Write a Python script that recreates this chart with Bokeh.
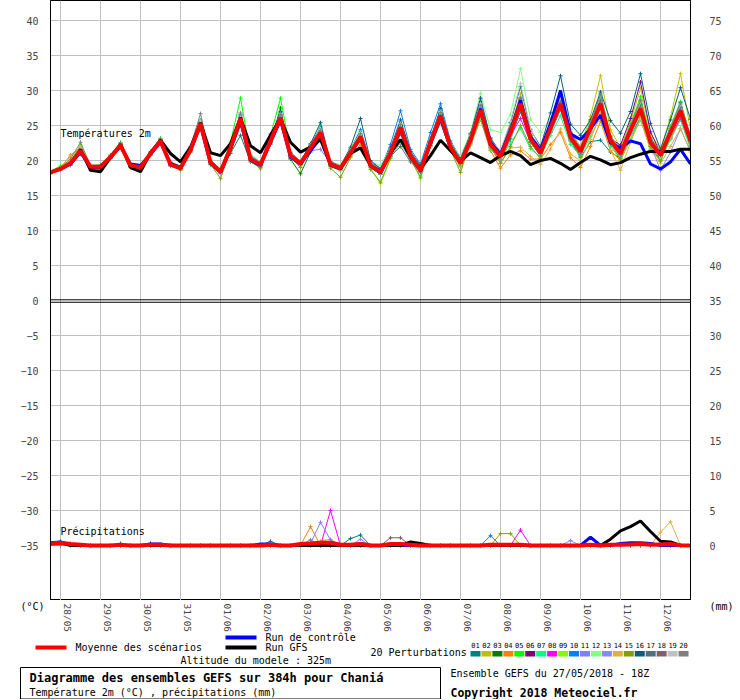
from bokeh.plotting import figure
from bokeh.models import Range1d, LinearAxis, FixedTicker, Span, Label
from bokeh.layouts import column
from bokeh.embed import file_html
from bokeh.resources import INLINE
from bokeh.core.properties import value

# ---------------- data ----------------
hours = list(range(0, 385, 6))  # 27/05 18Z + 0..384 h, every 6 h
date_labels = ["28/05", "29/05", "30/05", "31/05", "01/06", "02/06", "03/06", "04/06",
               "05/06", "06/06", "07/06", "08/06", "09/06", "10/06", "11/06", "12/06"]
temp_ticks = [-35, -30, -25, -20, -15, -10, -5, 0, 5, 10, 15, 20, 25, 30, 35, 40]
precip_ticks = [0, 5, 10, 15, 20, 25, 30, 35, 40, 45, 50, 55, 60, 65, 70, 75]
member_names = ["01", "02", "03", "04", "05", "06", "07", "08", "09", "10",
                "11", "12", "13", "14", "15", "16", "17", "18", "19", "20"]

temp_mean = [18.3, 18.8, 19.6, 21.4, 19.1, 19.1, 20.5, 22.2, 19.3, 19.0, 21.0, 22.8, 19.4, 18.9, 21.5, 25.3, 19.7,
             18.4, 21.8, 26.0, 20.2, 19.4, 22.8, 26.1, 20.7, 19.6, 21.8, 24.0, 19.4, 18.9, 21.1, 23.4, 19.3,
             18.3, 21.1, 24.7, 20.7, 18.6, 22.6, 26.4, 21.9, 19.6, 22.9, 27.2, 22.3, 20.6, 24.0, 28.1, 23.1,
             21.1, 24.6, 28.1, 23.3, 21.3, 24.6, 28.1, 22.9, 21.0, 24.3, 27.4, 22.6, 20.8, 24.0, 27.1, 22.8]
temp_control = [18.3, 18.8, 19.5, 21.2, 19.0, 18.9, 20.4, 22.0, 19.5, 19.3, 20.9, 22.6, 19.6, 19.0, 21.4, 25.0, 19.6,
                18.3, 21.6, 25.6, 20.0, 19.3, 22.6, 25.8, 20.5, 19.5, 21.4, 23.2, 19.3, 18.8, 21.0, 23.2, 19.2,
                18.2, 21.0, 24.4, 20.6, 18.5, 22.4, 26.0, 21.8, 19.6, 23.0, 27.4, 22.6, 20.9, 24.3, 28.6, 23.4,
                21.5, 25.3, 30.0, 23.8, 23.0, 24.5, 26.5, 22.5, 21.8, 22.8, 22.4, 19.5, 18.8, 19.8, 21.6, 19.5]
temp_gfs = [18.3, 18.8, 19.5, 21.6, 18.6, 18.4, 20.4, 22.3, 19.0, 18.4, 21.1, 22.9, 21.0, 19.8, 21.9, 25.4, 21.1,
            20.7, 22.4, 26.1, 22.1, 21.1, 23.6, 26.0, 22.6, 21.2, 21.9, 23.0, 19.5, 18.9, 21.0, 21.8, 19.3,
            18.5, 21.0, 23.0, 20.5, 18.8, 20.7, 22.9, 21.4, 19.9, 21.1, 20.4, 19.7, 20.7, 21.3, 20.7, 19.4,
            20.0, 20.3, 19.6, 18.7, 19.7, 20.6, 20.1, 19.4, 19.7, 20.4, 20.9, 21.3, 21.3, 21.3, 21.6, 21.6]

t01 = [18.2, 18.7, 19.3, 20.9, 19.0, 19.0, 20.3, 22.0, 19.1, 18.9, 20.8, 22.6, 19.3, 18.8, 21.2, 25.0, 19.4,
       18.6, 21.0, 23.6, 19.8, 19.0, 22.3, 25.6, 20.3, 19.4, 21.5, 23.5, 19.3, 18.7, 20.8, 23.0, 19.2,
       18.0, 20.6, 23.8, 20.3, 18.4, 22.2, 25.6, 21.5, 19.4, 22.4, 26.2, 21.8, 20.1, 23.1, 27.0, 22.6,
       20.6, 24.0, 27.3, 22.8, 20.4, 22.7, 22.9, 21.2, 20.3, 23.4, 26.2, 22.1, 20.2, 23.3, 26.0, 22.0]
t02 = [18.3, 18.9, 19.7, 21.6, 19.2, 19.2, 20.6, 22.3, 19.4, 19.1, 21.1, 22.9, 19.5, 19.0, 21.6, 25.4, 19.8,
       18.5, 22.0, 26.4, 20.4, 19.6, 23.0, 26.6, 20.9, 19.8, 22.1, 24.6, 19.7, 19.1, 21.4, 23.9, 19.6,
       18.6, 21.5, 25.3, 21.0, 18.9, 23.0, 27.0, 22.2, 19.9, 23.4, 28.0, 22.8, 21.0, 24.8, 29.5, 23.8,
       21.6, 25.5, 29.8, 24.2, 22.0, 26.3, 32.1, 24.4, 21.8, 25.6, 30.3, 23.9, 21.6, 26.2, 32.4, 24.3]
t03 = [18.4, 18.8, 19.5, 21.3, 19.0, 19.0, 20.4, 22.1, 19.2, 18.9, 20.9, 22.7, 19.3, 18.8, 21.4, 25.2, 19.5,
       18.2, 21.6, 25.8, 20.0, 19.2, 22.6, 27.5, 20.2, 18.1, 21.2, 24.3, 19.5, 19.0, 21.2, 23.6, 19.4,
       18.4, 21.3, 25.0, 20.9, 18.8, 22.8, 26.8, 22.0, 19.8, 23.2, 27.8, 22.6, 20.8, 24.4, 28.8, 23.5,
       21.4, 25.0, 28.9, 23.7, 21.6, 25.2, 29.2, 23.3, 21.3, 24.9, 28.6, 23.0, 21.2, 24.6, 28.3, 23.2]
t04 = [18.1, 18.9, 20.8, 21.8, 19.2, 19.1, 20.4, 22.1, 19.2, 19.0, 20.9, 22.6, 19.3, 18.9, 21.3, 25.1, 19.6,
       18.6, 21.2, 25.0, 20.0, 19.4, 22.4, 25.4, 20.4, 19.5, 21.4, 23.1, 19.2, 18.7, 20.6, 22.3, 19.0,
       18.1, 20.8, 23.9, 20.4, 18.3, 22.0, 25.5, 21.5, 19.1, 22.1, 25.8, 21.4, 18.9, 20.8, 21.4, 20.2,
       20.2, 22.3, 24.0, 20.4, 19.0, 22.0, 25.6, 21.4, 20.0, 23.0, 25.8, 21.6, 20.0, 23.1, 26.0, 21.9]
t05 = [18.5, 19.2, 19.9, 22.2, 19.3, 19.4, 20.8, 22.6, 19.6, 19.3, 21.3, 23.2, 19.8, 19.2, 21.9, 25.8, 20.0,
       18.8, 22.6, 28.9, 20.8, 19.8, 23.6, 28.9, 21.2, 19.9, 22.2, 24.8, 19.8, 19.2, 21.6, 24.2, 19.7,
       18.8, 21.6, 25.6, 21.2, 19.0, 23.1, 27.2, 22.4, 20.0, 23.5, 28.2, 23.0, 21.0, 24.7, 29.0, 23.6,
       21.5, 25.2, 29.4, 23.9, 21.7, 25.6, 29.6, 23.5, 21.6, 25.2, 29.1, 23.3, 21.3, 24.9, 28.4, 23.5]
t06 = [18.3, 18.8, 19.6, 21.4, 19.1, 19.1, 20.5, 22.3, 19.3, 19.0, 21.0, 22.8, 19.4, 18.9, 21.5, 25.3, 19.7,
       18.3, 21.7, 26.1, 20.2, 19.3, 22.9, 26.3, 20.7, 19.6, 21.9, 24.2, 19.4, 18.9, 21.1, 23.5, 19.3,
       18.3, 21.2, 24.9, 20.8, 18.6, 22.7, 26.6, 22.0, 19.7, 23.0, 27.5, 22.4, 20.7, 24.2, 28.6, 23.3,
       21.3, 24.8, 28.6, 23.5, 21.5, 24.9, 28.6, 23.1, 22.2, 26.0, 31.2, 24.1, 21.0, 24.3, 27.6, 23.0]
t07 = [18.2, 18.7, 19.4, 21.1, 18.9, 18.9, 20.2, 21.9, 19.0, 18.8, 20.7, 22.5, 19.2, 18.7, 21.1, 25.0, 19.4,
       18.1, 21.4, 25.4, 19.9, 19.1, 22.4, 25.8, 20.5, 19.3, 21.4, 23.4, 19.1, 18.6, 20.8, 22.8, 19.0,
       18.0, 20.4, 22.5, 20.0, 18.2, 22.0, 25.4, 21.4, 19.1, 22.3, 26.0, 21.6, 20.2, 22.5, 24.6, 21.7,
       20.5, 23.6, 26.4, 22.3, 20.6, 23.5, 26.2, 22.0, 20.2, 23.3, 25.8, 21.8, 20.0, 23.0, 25.8, 21.7]
t08 = [18.4, 18.9, 19.7, 21.5, 19.1, 19.2, 20.6, 22.3, 19.4, 19.1, 21.1, 22.9, 19.5, 19.0, 21.6, 25.4, 19.8,
       18.5, 22.0, 26.2, 20.3, 19.6, 23.8, 26.4, 20.8, 19.7, 22.0, 24.1, 19.5, 19.0, 21.2, 23.5, 19.4,
       18.4, 21.2, 24.8, 20.8, 18.7, 22.7, 26.5, 22.0, 19.7, 23.1, 27.3, 22.5, 20.8, 23.6, 26.0, 22.6,
       21.2, 24.7, 28.3, 23.4, 21.4, 24.7, 28.3, 23.0, 21.1, 24.4, 27.6, 22.7, 20.6, 23.4, 26.1, 22.4]
t09 = [18.3, 18.7, 19.5, 21.2, 19.0, 19.0, 20.4, 22.1, 19.2, 18.9, 20.9, 22.7, 19.3, 18.7, 21.3, 25.1, 19.5,
       18.1, 21.5, 25.6, 19.9, 19.1, 22.6, 26.0, 20.5, 19.3, 21.6, 23.8, 19.2, 18.5, 20.7, 23.0, 18.9,
       16.7, 20.2, 24.2, 20.4, 17.4, 22.0, 26.2, 21.7, 19.4, 22.7, 27.0, 22.1, 20.4, 23.8, 27.8, 22.9,
       20.9, 24.4, 27.8, 23.1, 21.1, 24.4, 27.8, 22.7, 20.8, 24.0, 27.0, 22.4, 20.6, 23.8, 26.8, 22.5]
t10 = [18.3, 18.9, 19.6, 21.3, 19.2, 19.2, 20.6, 22.4, 19.4, 19.1, 21.1, 23.0, 19.6, 19.0, 21.7, 25.5, 19.9,
       18.6, 22.1, 26.4, 20.5, 19.7, 23.2, 26.8, 21.1, 19.9, 22.3, 24.6, 19.8, 19.3, 21.6, 24.4, 19.8,
       18.9, 22.3, 27.1, 21.6, 19.5, 24.0, 28.1, 22.8, 20.4, 23.8, 28.4, 23.2, 20.8, 24.1, 28.0, 23.1,
       21.0, 24.5, 28.0, 23.2, 21.2, 24.5, 28.0, 22.8, 21.0, 24.2, 27.3, 22.5, 20.7, 23.9, 27.0, 22.7]
t11 = [18.2, 18.8, 19.6, 21.2, 19.3, 19.3, 20.5, 22.0, 19.5, 19.2, 21.0, 22.6, 19.6, 19.1, 21.4, 25.1, 19.9,
       18.6, 21.8, 25.8, 20.6, 19.7, 22.7, 25.9, 21.0, 19.9, 21.4, 21.6, 19.6, 19.3, 21.2, 23.1, 19.7,
       18.7, 21.0, 24.3, 21.1, 19.0, 22.5, 26.0, 22.3, 20.0, 22.7, 26.6, 22.9, 21.2, 24.0, 27.4, 23.6,
       21.6, 24.5, 27.5, 23.8, 21.8, 24.4, 27.4, 23.4, 21.5, 24.1, 26.8, 23.1, 21.3, 23.8, 26.4, 23.2]
t12 = [18.4, 18.9, 19.7, 21.6, 19.2, 19.2, 20.6, 22.3, 19.4, 19.1, 21.1, 22.9, 19.5, 19.0, 21.6, 25.4, 19.8,
       18.5, 21.9, 26.2, 20.3, 19.5, 22.9, 26.3, 20.8, 19.7, 22.0, 24.4, 19.6, 19.4, 21.7, 24.0, 19.8,
       19.3, 21.8, 25.2, 21.2, 19.2, 23.0, 26.8, 22.5, 20.6, 24.0, 29.6, 24.4, 24.0, 26.6, 33.1, 25.9,
       24.0, 26.0, 29.0, 24.5, 21.0, 24.0, 27.4, 22.6, 20.5, 23.5, 26.8, 22.0, 20.4, 23.4, 26.6, 22.2]
t13 = [18.2, 18.6, 19.4, 21.0, 18.9, 18.9, 20.3, 22.0, 19.1, 18.8, 20.8, 22.6, 19.2, 18.7, 21.3, 25.1, 19.5,
       18.2, 21.5, 25.6, 20.0, 19.2, 22.5, 25.8, 20.5, 19.4, 21.6, 23.6, 19.2, 18.6, 20.8, 23.0, 19.1,
       18.0, 20.8, 24.2, 20.4, 18.3, 22.2, 25.9, 21.6, 19.3, 22.5, 26.6, 21.9, 20.2, 23.5, 27.4, 22.7,
       20.7, 24.1, 27.5, 22.9, 20.9, 24.1, 27.5, 22.5, 20.6, 23.8, 26.8, 22.2, 18.6, 21.2, 24.5, 21.4]
t14 = [18.0, 19.0, 20.6, 22.0, 19.3, 19.1, 20.5, 22.2, 19.3, 19.0, 21.0, 22.7, 19.4, 18.9, 21.4, 25.2, 19.6,
       18.4, 21.6, 25.6, 20.1, 19.3, 22.6, 25.9, 20.6, 19.5, 21.6, 23.8, 19.3, 18.8, 21.0, 23.2, 19.2,
       18.2, 21.0, 24.4, 20.5, 18.5, 22.4, 26.0, 21.7, 19.4, 22.6, 26.5, 21.9, 19.6, 21.8, 21.9, 20.6,
       19.4, 21.6, 24.5, 20.9, 20.0, 23.0, 26.6, 21.5, 18.6, 22.6, 26.0, 21.4, 19.6, 22.0, 24.6, 21.2]
t15 = [18.3, 18.8, 19.6, 21.4, 19.1, 19.0, 20.4, 22.2, 19.2, 18.9, 20.9, 22.8, 19.3, 18.6, 21.4, 25.2, 19.5,
       17.4, 21.5, 25.8, 20.0, 18.8, 22.6, 26.0, 20.4, 19.0, 21.6, 23.9, 18.9, 17.6, 20.4, 23.3, 18.7,
       16.9, 20.3, 24.4, 20.2, 17.6, 22.2, 26.2, 21.5, 18.3, 22.6, 27.1, 21.9, 19.6, 22.0, 25.0, 22.0,
       20.3, 24.3, 28.2, 22.9, 20.6, 24.4, 28.4, 22.4, 20.2, 24.0, 27.6, 22.0, 19.9, 23.7, 27.2, 22.1]
t16 = [18.3, 18.8, 19.6, 21.5, 19.1, 19.1, 20.6, 22.4, 19.3, 19.0, 21.1, 23.0, 19.4, 18.9, 21.7, 25.6, 19.8,
       18.4, 22.2, 26.6, 20.4, 19.5, 23.3, 27.0, 21.0, 19.7, 22.4, 25.4, 19.8, 19.2, 21.9, 26.0, 20.0,
       18.8, 21.8, 25.8, 21.3, 19.2, 23.2, 27.4, 22.5, 20.2, 23.8, 28.9, 23.2, 21.2, 25.4, 30.6, 24.4,
       22.0, 26.8, 32.1, 25.2, 23.6, 25.8, 29.8, 25.7, 23.9, 27.0, 32.4, 25.3, 21.6, 25.8, 30.4, 25.9]
t17 = [18.3, 18.8, 19.5, 21.3, 19.0, 19.0, 20.5, 22.2, 19.3, 19.0, 21.0, 22.8, 19.4, 18.9, 21.5, 25.3, 19.7,
       18.4, 21.8, 26.0, 20.1, 19.4, 22.8, 26.2, 20.7, 19.6, 21.9, 24.1, 19.4, 18.9, 21.1, 23.4, 19.3,
       18.3, 21.1, 24.7, 20.7, 18.6, 22.6, 26.4, 21.9, 19.6, 23.0, 27.3, 22.3, 20.6, 24.1, 28.3, 23.1,
       21.2, 24.7, 28.4, 23.4, 21.4, 24.8, 28.6, 23.0, 21.1, 24.5, 27.9, 22.7, 20.9, 24.2, 27.5, 22.9]
t18 = [18.4, 18.9, 19.6, 21.4, 19.2, 19.1, 20.5, 22.2, 19.3, 19.0, 21.0, 22.8, 19.4, 18.9, 21.5, 25.3, 19.7,
       18.4, 21.8, 25.9, 20.2, 19.4, 22.7, 26.0, 20.6, 19.5, 21.8, 23.9, 19.4, 18.9, 21.0, 23.3, 19.3,
       18.6, 20.6, 22.0, 19.8, 18.4, 22.4, 26.1, 21.8, 19.6, 22.8, 27.0, 22.2, 20.6, 23.9, 27.9, 23.0,
       21.0, 24.5, 27.9, 23.2, 21.2, 24.4, 27.9, 22.8, 20.9, 24.2, 27.2, 22.5, 20.7, 23.9, 26.9, 22.7]
t19 = [18.3, 18.9, 19.8, 21.7, 19.3, 19.3, 20.7, 22.4, 19.5, 19.2, 21.2, 23.0, 19.6, 19.1, 21.8, 25.6, 20.0,
       18.7, 22.2, 26.5, 20.5, 19.8, 23.1, 26.7, 21.0, 19.9, 22.2, 24.5, 19.7, 19.2, 21.5, 23.9, 19.6,
       18.7, 21.6, 25.3, 21.0, 18.9, 23.1, 27.0, 22.3, 20.0, 23.6, 28.1, 22.9, 21.4, 25.6, 31.0, 24.6,
       21.6, 25.3, 29.0, 24.0, 21.8, 25.4, 29.2, 23.5, 21.5, 25.0, 28.4, 23.1, 21.2, 24.6, 28.0, 23.3]
t20 = [18.4, 19.0, 20.2, 22.6, 19.3, 19.3, 20.7, 22.5, 19.5, 19.2, 21.2, 23.1, 19.6, 19.1, 22.0, 26.7, 20.1,
       18.7, 22.3, 26.8, 20.6, 19.7, 23.1, 26.6, 21.0, 19.8, 22.1, 24.3, 19.6, 19.1, 21.4, 23.8, 19.5,
       18.6, 21.5, 25.1, 20.9, 18.9, 22.9, 26.8, 22.1, 19.9, 23.3, 27.8, 22.7, 21.0, 24.5, 28.9, 23.5,
       21.7, 25.4, 29.4, 24.0, 21.8, 25.4, 29.4, 23.5, 21.4, 25.0, 28.6, 23.2, 21.2, 24.6, 28.2, 23.4]

prec_mean = [0.3, 0.4, 0.2, 0.1, 0, 0, 0, 0.1, 0, 0, 0.1, 0.1, 0, 0, 0, 0, 0,
             0, 0, 0, 0, 0, 0.1, 0, 0, 0.2, 0.3, 0.4, 0.4, 0.1, 0.1, 0.2, 0,
             0, 0.2, 0.2, 0.1, 0, 0, 0, 0, 0, 0, 0, 0.1, 0.1, 0.1, 0.1, 0,
             0, 0, 0, 0, 0, 0.1, 0, 0.1, 0.1, 0.15, 0.2, 0.1, 0.15, 0.2, 0.05, 0]
prec_control = [0.4, 0.5, 0.1, 0, 0, 0, 0, 0, 0, 0, 0.2, 0.2, 0, 0, 0, 0, 0,
                0, 0, 0, 0, 0.2, 0.2, 0, 0, 0, 0, 0, 0, 0, 0, 0.3, 0,
                0, 0, 0, 0, 0, 0, 0, 0, 0, 0, 0, 0, 0, 0, 0, 0,
                0, 0, 0, 0, 0, 1.2, 0, 0, 0.3, 0.4, 0.4, 0.3, 0, 0, 0, 0]
prec_gfs = [0.3, 0.4, 0, 0, 0, 0, 0, 0, 0, 0, 0, 0, 0, 0, 0, 0, 0,
            0, 0, 0, 0, 0, 0, 0, 0, 0, 0, 0, 0, 0, 0, 0, 0,
            0, 0, 0, 0.5, 0.3, 0, 0, 0, 0, 0, 0, 0, 0, 0, 0, 0,
            0, 0, 0, 0, 0, 0, 0, 0.9, 2.1, 2.7, 3.5, 2.0, 0.6, 0.5, 0, 0]

p01 = [0.5, 0.6, 0, 0, 0, 0, 0, 0.3, 0, 0, 0, 0, 0, 0, 0, 0, 0,
       0, 0, 0, 0, 0, 0.6, 0, 0, 0, 0, 0, 0, 0, 1.0, 1.5, 0,
       0, 0, 0, 0, 0, 0, 0, 0, 0, 0, 0, 0, 0, 0, 0, 0,
       0, 0, 0, 0, 0, 0, 0, 0, 0, 0, 0, 0, 0, 0, 0, 0]
p02 = [0, 0, 0, 0, 0, 0, 0, 0, 0, 0, 0, 0, 0, 0, 0, 0, 0,
       0, 0, 0, 0, 0, 0, 0, 0, 0, 0, 0.6, 0.9, 0, 0, 0, 0,
       0, 0, 0, 0, 0, 0, 0, 0, 0, 0, 0, 0, 0, 0, 0, 0,
       0, 0, 0, 0, 0, 0, 0, 0, 0, 0, 0, 0, 0, 0, 0, 0]
p03 = [0.3, 0, 0, 0, 0, 0, 0, 0, 0, 0, 0, 0, 0, 0, 0, 0, 0,
       0, 0, 0, 0, 0, 0, 0, 0, 0, 0, 0, 0, 0, 0, 0, 0,
       0, 0, 0, 0, 0, 0, 0, 0, 0, 0, 0, 0, 0, 0, 0, 0,
       0, 0, 0, 0, 0, 0, 0, 0, 0, 0, 0, 0, 0, 0, 0, 0]
p04 = [0, 0, 0, 0, 0, 0, 0, 0, 0, 0, 0, 0, 0, 0, 0, 0, 0,
       0, 0, 0, 0, 0, 0, 0, 0, 0, 2.7, 0, 0, 0, 0, 0, 0,
       0, 0, 0, 0, 0, 0, 0, 0, 0, 0, 0, 0, 0, 0, 0, 0,
       0, 0, 0, 0, 0, 0, 0, 0, 0, 0, 0, 0, 0, 0, 0, 0]
p05 = [0, 0.4, 0, 0, 0, 0, 0, 0, 0, 0, 0, 0, 0, 0, 0, 0, 0,
       0, 0, 0, 0, 0, 0, 0, 0, 0, 0, 0, 0, 0, 0, 0, 0,
       0, 0, 0, 0, 0, 0, 0, 0, 0, 0, 0, 0, 0, 0, 0, 0,
       0, 0, 0, 0, 0, 0, 0, 0, 0, 0, 0, 0, 0, 0, 0, 0]
p06 = [0, 0, 0, 0, 0, 0, 0, 0, 0, 0, 0, 0, 0, 0, 0, 0, 0,
       0, 0, 0, 0, 0, 0, 0, 0, 0, 0, 0, 0, 0, 0, 0, 0,
       0, 0, 0, 0.2, 0, 0, 0, 0, 0, 0, 0, 0, 0, 0, 0, 0,
       0, 0, 0, 0, 0, 0, 0, 0, 0, 0, 0, 0, 0, 0, 0, 0]
p07 = [0, 0, 0, 0, 0, 0, 0, 0, 0, 0, 0, 0, 0, 0, 0, 0, 0,
       0, 0, 0, 0, 0, 0, 0, 0, 0, 0, 0, 0, 0, 0, 0, 0,
       0, 0, 0, 0, 0, 0, 0, 0, 0, 0, 0, 0, 0, 0, 0, 0,
       0, 0, 0, 0, 0, 0, 0, 0, 0, 0, 0, 0, 0, 0, 0, 0]
p08 = [0, 0, 0, 0, 0, 0, 0, 0, 0, 0, 0, 0, 0, 0, 0, 0, 0,
       0, 0, 0, 0, 0, 0, 0, 0, 0, 0, 0, 5.0, 0, 0, 0, 0,
       0, 0, 0, 0, 0, 0, 0, 0, 0, 0, 0, 0, 0, 0, 2.2, 0,
       0, 0, 0, 0, 0, 0, 0, 0, 0, 0, 0, 0, 0, 0, 0, 0]
p09 = [0, 0, 0, 0, 0, 0, 0, 0, 0, 0, 0, 0, 0, 0, 0, 0, 0,
       0, 0, 0, 0, 0, 0, 0, 0, 0, 0, 0, 0, 0, 0, 0, 0,
       0, 0, 0, 0, 0, 0, 0, 0, 0, 0, 0, 0, 0, 0, 0, 0,
       0, 0, 0, 0, 0, 0, 0, 0, 0, 0, 0, 0, 0, 0, 0, 0]
p10 = [0, 0.3, 0, 0, 0, 0, 0, 0, 0, 0, 0, 0, 0, 0, 0, 0, 0,
       0, 0, 0, 0, 0, 0, 0, 0, 0, 0, 0, 0, 0, 0, 0, 0,
       0, 0, 0, 0, 0, 0, 0, 0, 0, 0, 0, 1.4, 0, 0, 0, 0,
       0, 0, 0, 0, 0, 0, 0, 0, 0, 0, 0, 0, 0, 0, 0, 0]
p11 = [0, 0, 0, 0, 0, 0, 0, 0, 0, 0, 0, 0, 0, 0, 0, 0, 0,
       0, 0, 0, 0, 0, 0, 0, 0, 0, 0.3, 3.3, 0.8, 0, 0, 0, 0,
       0, 0, 0, 0, 0, 0, 0, 0, 0, 0, 0, 0, 0, 0, 0, 0,
       0, 0, 0, 0, 0, 0, 0, 0, 0, 0, 0, 0, 0, 0, 0, 0]
p12 = [0, 0, 0, 0, 0, 0, 0, 0, 0, 0, 0, 0.2, 0, 0, 0, 0, 0,
       0, 0, 0, 0, 0, 0, 0, 0, 0, 0, 0, 0, 0, 0, 0, 0,
       0, 0, 0, 0, 0, 0, 0, 0, 0, 0, 0, 0, 0, 0, 0, 0,
       0, 0, 0, 0, 0, 0, 0, 0, 0, 0, 0, 0, 0, 0, 0, 0]
p13 = [0, 0, 0, 0, 0, 0, 0, 0, 0, 0, 0, 0, 0, 0, 0, 0, 0,
       0, 0, 0, 0, 0, 0, 0, 0, 0, 0, 0, 0, 0, 0, 0.9, 0,
       0, 0, 0, 0, 0, 0, 0, 0, 0, 0, 0, 0, 0, 0, 0, 0,
       0, 0, 0, 0.7, 0, 0, 0, 0, 0, 0, 0, 0, 0, 0, 0, 0]
p14 = [0, 0, 0, 0, 0, 0, 0, 0, 0, 0, 0, 0, 0, 0, 0, 0, 0,
       0, 0, 0, 0, 0, 0, 0, 0, 0, 0, 0, 0, 0, 0, 0, 0,
       0, 0, 0, 0, 0, 0, 0, 0, 0, 0, 0, 0, 0, 0, 0, 0,
       0, 0, 0, 0, 0, 0, 0, 0, 0, 0, 0, 0, 1.9, 3.4, 0, 0]
p15 = [0, 0, 0, 0, 0, 0, 0, 0, 0, 0, 0, 0, 0, 0, 0, 0, 0,
       0, 0, 0, 0, 0, 0, 0, 0, 0, 0, 0, 0, 0, 0, 0, 0,
       0, 0, 0, 0, 0, 0, 0, 0, 0, 0, 0, 0, 1.7, 1.7, 0, 0,
       0, 0, 0, 0, 0, 0, 0, 0, 0, 0, 0, 0, 0, 0, 0, 0]
p16 = [0, 0, 0, 0, 0, 0, 0, 0, 0, 0, 0.3, 0, 0, 0, 0, 0, 0,
       0, 0, 0, 0, 0, 0, 0, 0, 0, 0, 0, 0, 0, 0, 0, 0,
       0, 0, 0, 0, 0, 0, 0, 0, 0, 0, 0, 0, 0, 0, 0, 0,
       0, 0, 0, 0, 0, 0, 0, 0, 0, 0, 0, 0, 0, 0, 0, 0]
p17 = [0, 0, 0, 0, 0, 0, 0, 0, 0, 0, 0, 0, 0, 0, 0, 0, 0,
       0, 0, 0, 0, 0, 0, 0, 0, 0, 0, 0, 0, 0, 0, 0, 0,
       0, 0, 0, 0, 0, 0, 0, 0, 0, 0, 0, 0, 0, 0, 0, 0,
       0, 0, 0, 0, 0, 0, 0, 0, 0, 0, 0, 0, 0, 0, 0, 0]
p18 = [0, 0, 0, 0, 0, 0, 0, 0, 0, 0, 0, 0, 0, 0, 0, 0, 0,
       0, 0, 0, 0, 0, 0, 0, 0, 0, 0, 0, 0, 0, 0, 0, 0,
       0, 1.1, 1.1, 0, 0, 0, 0, 0, 0, 0, 0, 0, 0, 0, 0, 0,
       0, 0, 0, 0, 0, 0, 0, 0, 0, 0, 0, 0, 0, 0, 0, 0]
p19 = [0, 0, 0, 0, 0, 0, 0, 0, 0, 0, 0, 0, 0, 0, 0, 0, 0,
       0, 0, 0, 0, 0, 0, 0, 0, 0, 0, 0, 0, 0, 0, 0, 0,
       0, 0, 0, 0, 0, 0, 0, 0, 0, 0, 0, 0, 0, 0, 0, 0,
       0, 0, 0, 0, 0, 0, 0, 0, 0, 0, 0, 0, 0, 0, 0, 0]
p20 = [0, 0, 0.3, 0, 0, 0, 0, 0, 0, 0, 0, 0, 0, 0, 0, 0, 0,
       0, 0, 0, 0, 0, 0, 0, 0, 0, 0.8, 0, 0, 0, 0, 0, 0,
       0, 0, 0, 0, 0, 0, 0, 0, 0, 0, 0, 0, 0, 0, 0, 0,
       0, 0, 0, 0, 0, 0, 0, 0, 0, 0, 0, 0, 0, 0, 0, 0]

temp_members = [t01, t02, t03, t04, t05, t06, t07, t08, t09, t10,
                t11, t12, t13, t14, t15, t16, t17, t18, t19, t20]
prec_members = [p01, p02, p03, p04, p05, p06, p07, p08, p09, p10,
                p11, p12, p13, p14, p15, p16, p17, p18, p19, p20]

# ---------------- styles ----------------
member_colors = ["#008080", "#c0c000", "#008000", "#ff8000", "#00ff00", "#800080", "#00ff80",
                 "#ff00ff", "#80ff00", "#0080ff", "#8080ff", "#80ff80", "#8888ff", "#e0b040",
                 "#80a000", "#006080", "#507080", "#806070", "#c0c0c0", "#808080"]
FONT = "DejaVu Sans Mono"
GRID = "#c0c0c0"

# ---------------- main chart (page y 0..600) ----------------
y_half = 300 / 7.0
p = figure(width=740, height=600, frame_width=640, frame_height=600,
           x_range=Range1d(0, 384), y_range=Range1d(-y_half, y_half),
           output_backend="svg", toolbar_location=None, title=None,
           x_axis_location=None, y_axis_location="left",
           min_border_left=50, min_border_right=50, min_border_top=0, min_border_bottom=0)
p.frame_align = False
p.extra_y_ranges = {"precip": Range1d(-y_half + 35, y_half + 35)}
p.background_fill_color = "white"
p.border_fill_color = "white"
p.outline_line_color = "black"

p.yaxis.ticker = FixedTicker(ticks=temp_ticks)
p.yaxis.major_label_standoff = 12
p.yaxis.major_label_text_font = FONT
p.yaxis.major_label_text_font_size = "10px"
p.yaxis.major_label_text_baseline = "top"
p.yaxis.major_tick_in = 0
p.yaxis.major_tick_out = 0
p.yaxis.minor_tick_in = 0
p.yaxis.minor_tick_out = 0
p.yaxis.axis_line_color = "black"

rax = LinearAxis(y_range_name="precip", ticker=FixedTicker(ticks=precip_ticks),
                 major_label_standoff=19, major_label_text_font=FONT,
                 major_label_text_font_size="10px", major_label_text_baseline="top",
                 major_tick_in=0, major_tick_out=0,
                 minor_tick_in=0, minor_tick_out=0, axis_line_color="black")
p.add_layout(rax, "right")

p.xgrid.ticker = FixedTicker(ticks=[6 + 24 * k for k in range(16)])
p.ygrid.ticker = FixedTicker(ticks=[t for t in temp_ticks if t != 0])
p.xgrid.grid_line_color = GRID
p.ygrid.grid_line_color = GRID

p.add_layout(Span(location=0.1, dimension="width", line_color="black", line_width=1))
p.add_layout(Span(location=-0.25, dimension="width", line_color="black", line_width=1))

for col, tv, pv in zip(member_colors, temp_members, prec_members):
    p.line(hours, tv, line_color=col, line_width=1)
    p.scatter(hours, tv, marker="cross", size=4, line_color=col, line_width=1)
    p.line(hours, pv, line_color=col, line_width=1, y_range_name="precip")
    p.scatter(hours, pv, marker="cross", size=4, line_color=col, line_width=1, y_range_name="precip")

p.line(hours, temp_control, line_color="#0000ff", line_width=3)
p.line(hours, prec_control, line_color="#0000ff", line_width=3, y_range_name="precip")
p.line(hours, temp_gfs, line_color="black", line_width=3)
p.line(hours, prec_gfs, line_color="black", line_width=3, y_range_name="precip")
p.line(hours, temp_mean, line_color="#ff0000", line_width=4)
p.line(hours, prec_mean, line_color="#ff0000", line_width=4, y_range_name="precip")

for x, y, txt in [(6, 23.9, "Températures 2m"), (6, -33.0, "Précipitations")]:
    p.add_layout(Label(x=x, y=y, text=txt, text_font=FONT, text_font_size="10px",
                       text_baseline="middle", text_align="left", text_color="black"))

# ---------------- date axis + legend strip (page y 600..699) ----------------
q = figure(width=740, height=99, x_range=Range1d(0, 740), y_range=Range1d(699, 600),
           output_backend="svg", toolbar_location=None, title=None, min_border=0,
           x_axis_location=None, y_axis_location=None)
q.frame_align = False
q.extra_x_ranges = {"hours": Range1d(-30, 414)}
q.outline_line_color = None
q.xgrid.visible = False
q.ygrid.visible = False
q.background_fill_color = "white"
q.border_fill_color = "white"

dax = LinearAxis(x_range_name="hours", fixed_location=600,
                 ticker=FixedTicker(ticks=[10 + 24 * k for k in range(len(date_labels))]),
                 major_label_overrides={10 + 24 * k: lab for k, lab in enumerate(date_labels)},
                 major_label_orientation="vertical", major_label_standoff=3,
                 major_label_text_font=FONT, major_label_text_font_size="9.5px",
                 major_tick_in=0, major_tick_out=0, minor_tick_in=0, minor_tick_out=0,
                 axis_line_color=None)
q.add_layout(dax, "below")

q.quad(left=[35, 225, 225], right=[66, 256, 256], top=[645, 635, 645], bottom=[649, 639, 649],
       fill_color=["#ff0000", "#0000ff", "black"], line_color=None)

sw_left = [470 + 10.95 * k for k in range(20)]
q.quad(left=sw_left, right=[v + 10 for v in sw_left], top=650.5, bottom=656,
       fill_color=member_colors, line_color=None)
q.text(x=[v + 5 for v in sw_left], y=644, text=member_names, text_font=value(FONT),
       text_font_size=value("7px"), text_align=value("center"), text_baseline=value("middle"),
       text_color="black")

q.quad(left=20, right=440, top=667, bottom=698.5, fill_color=None, line_color="black", line_width=1)

q.text(x=[20, 709, 75, 265, 265, 180, 370, 450, 29],
       y=[606, 606, 647, 637, 647, 660, 652, 673, 692],
       text=["(°C)", "(mm)", "Moyenne des scénarios", "Run de contrôle", "Run GFS",
             "Altitude du modele : 325m", "20 Perturbations", "Ensemble GEFS du 27/05/2018 - 18Z",
             "Température 2m (°C) , précipitations (mm)"],
       text_font=value(FONT), text_font_size=value("10px"), text_align=value("left"),
       text_baseline=value("middle"), text_color="black")
q.text(x=[29], y=[677], text=["Diagramme des ensembles GEFS sur 384h pour Chaniá"],
       text_font=value(FONT), text_font_size=value("12px"), text_font_style=value("bold"),
       text_align=value("left"), text_baseline=value("middle"), text_color="black")
q.text(x=[450], y=[692], text=["Copyright 2018 Meteociel.fr"],
       text_font=value(FONT), text_font_size=value("11.5px"), text_font_style=value("bold"),
       text_align=value("left"), text_baseline=value("middle"), text_color="black")

layout = column(p, q, spacing=0)
open("out.html", "w").write(file_html(layout, INLINE))
